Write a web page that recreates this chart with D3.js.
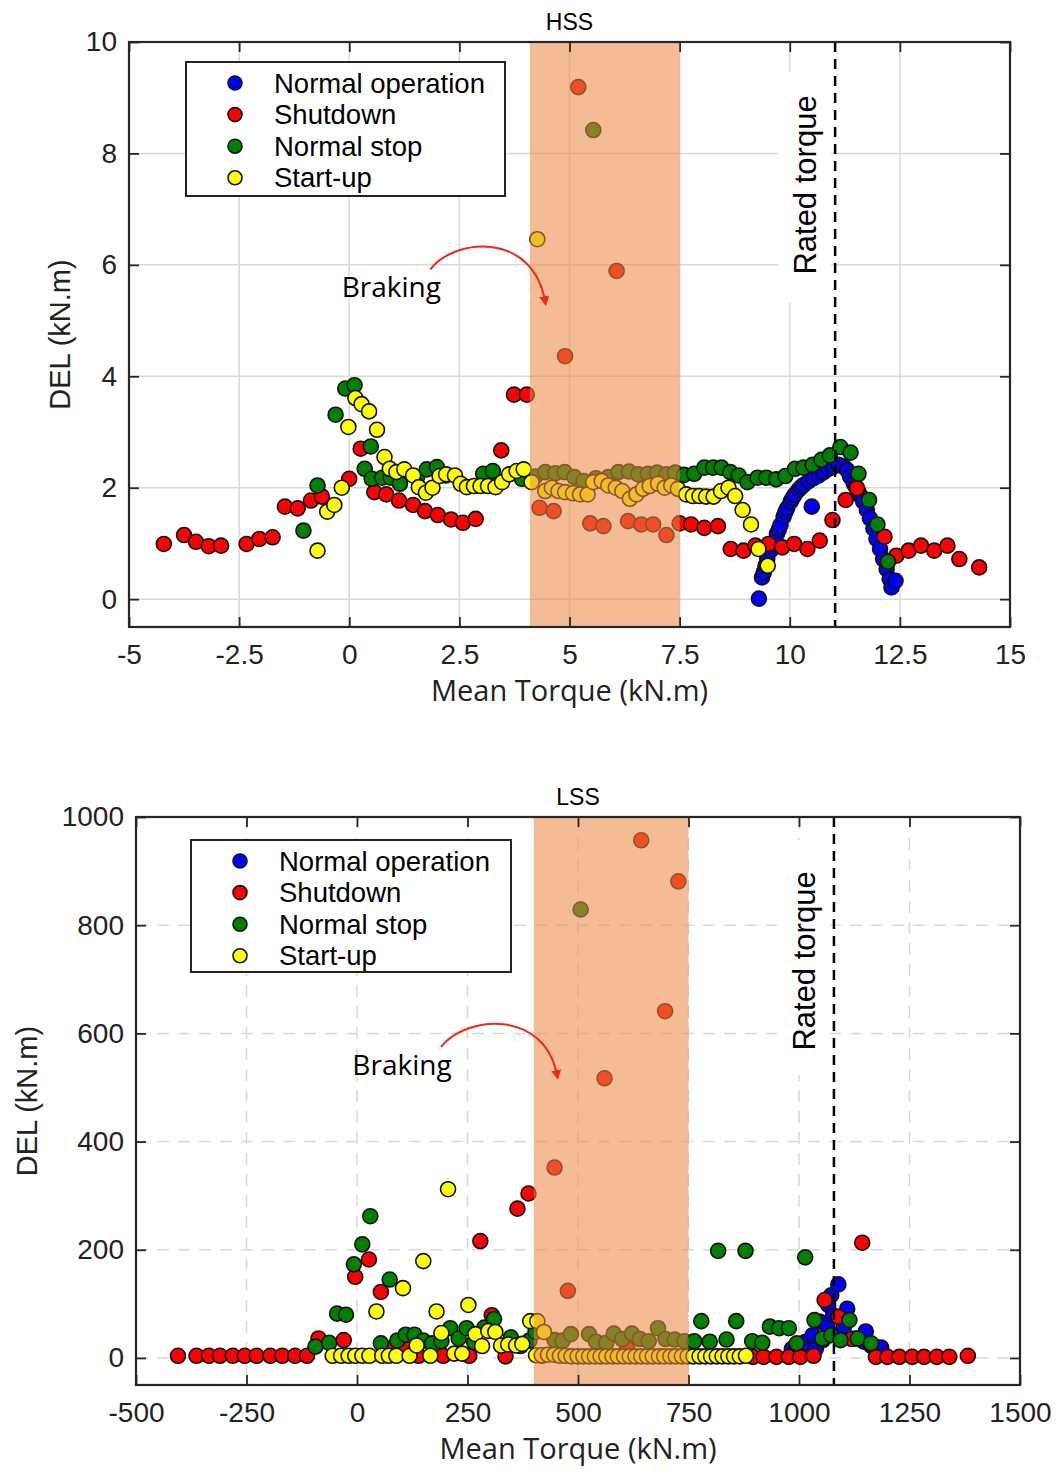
<!DOCTYPE html>
<html>
<head>
<meta charset="utf-8">
<script src="https://cdn.jsdelivr.net/npm/d3@7"></script>
<style>
  body { margin: 0; background: #fff; }
  svg { display: block; }
</style>
</head>
<body>
<svg width="1061" height="1473"></svg>
<script>
// ---- data: [mean torque, DEL] ----
var seriesNames = ["Normal operation", "Shutdown", "Normal stop", "Start-up"];

// HSS panel (kN.m)
var hssNormalOp = [[9.30,0.01],[9.37,0.39],[9.41,0.48],[9.45,0.60],[9.49,0.72],[9.56,0.87],[9.60,0.95],[9.64,1.02],[9.71,1.17],[9.75,1.25],[9.79,1.33],[9.86,1.48],[9.90,1.56],[9.94,1.63],[10.02,1.75],[10.06,1.81],[10.11,1.87],[10.20,1.96],[10.26,2.01],[10.32,2.05],[10.43,2.12],[10.54,2.17],[10.66,2.22],[10.77,2.28],[10.88,2.34],[10.99,2.38],[11.11,2.41],[11.22,2.38],[11.30,2.32],[11.37,2.20],[11.45,2.08],[11.50,2.01],[11.56,1.93],[11.62,1.84],[11.67,1.75],[11.75,1.60],[11.82,1.45],[11.90,1.27],[11.97,1.08],[12.05,0.90],[12.12,0.72],[12.20,0.54],[12.27,0.36],[12.31,0.21],[12.40,0.33],[10.50,1.66]];
var hssShutdown = [[-4.21,0.99],[-3.75,1.15],[-3.48,1.03],[-3.19,0.95],[-2.91,0.96],[-2.33,0.99],[-2.04,1.08],[-1.74,1.11],[-1.46,1.66],[-1.17,1.63],[-0.87,1.77],[-0.62,1.84],[0.00,2.16],[0.26,2.70],[0.57,1.92],[0.84,1.88],[1.13,1.77],[1.45,1.69],[1.72,1.58],[2.01,1.51],[2.31,1.43],[2.58,1.37],[2.87,1.44],[3.45,2.67],[3.74,3.67],[4.03,3.67],[4.32,1.64],[4.64,1.58],[4.90,4.36],[5.20,9.19],[6.07,5.89],[5.47,1.36],[5.77,1.31],[6.33,1.40],[6.63,1.34],[6.90,1.34],[7.20,1.15],[7.50,1.36],[7.76,1.34],[8.06,1.28],[8.37,1.31],[8.66,0.90],[8.95,0.87],[9.22,0.96],[9.52,0.99],[9.83,0.93],[10.10,0.99],[10.40,0.90],[10.68,1.05],[10.97,1.42],[11.27,1.78],[11.53,1.99],[12.15,1.12],[12.42,0.78],[12.70,0.87],[12.98,0.96],[13.28,0.87],[13.58,0.96],[13.85,0.72],[14.30,0.57]];
var hssNormalStop = [[-1.04,1.23],[-0.72,2.04],[-0.31,3.31],[-0.09,3.78],[0.12,3.84],[0.35,2.34],[0.49,2.74],[0.51,2.16],[0.75,2.18],[0.94,2.18],[1.15,2.07],[1.54,2.19],[1.76,2.33],[1.99,2.37],[2.20,2.22],[3.04,2.25],[3.26,2.30],[3.92,2.16],[4.22,2.20],[4.45,2.28],[4.68,2.26],[4.89,2.28],[5.11,2.19],[5.32,2.12],[5.54,8.42],[5.60,2.17],[5.88,2.19],[6.11,2.28],[6.35,2.29],[6.56,2.24],[6.78,2.25],[6.99,2.27],[7.20,2.24],[7.40,2.27],[7.60,2.23],[7.83,2.25],[8.06,2.36],[8.26,2.36],[8.45,2.36],[8.65,2.28],[8.84,2.22],[9.04,2.10],[9.27,2.18],[9.47,2.18],[9.69,2.15],[9.90,2.21],[10.12,2.34],[10.31,2.36],[10.52,2.41],[10.72,2.50],[10.91,2.58],[11.15,2.73],[11.38,2.63],[11.56,2.25],[11.80,1.78],[11.99,1.34],[12.23,0.67]];
var hssStartup = [[-0.72,0.87],[-0.50,1.57],[-0.34,1.69],[-0.17,2.00],[-0.02,3.09],[0.14,3.61],[0.28,3.50],[0.45,3.37],[0.63,3.04],[0.80,2.55],[0.92,2.34],[1.07,2.28],[1.25,2.33],[1.45,2.22],[1.58,2.01],[1.74,1.91],[1.89,2.00],[2.05,2.21],[2.20,2.24],[2.40,2.22],[2.53,2.07],[2.67,2.01],[2.83,2.03],[2.98,2.03],[3.15,2.03],[3.32,2.01],[3.47,2.10],[3.63,2.24],[3.80,2.30],[3.96,2.33],[4.14,2.10],[4.27,6.46],[4.45,1.94],[4.60,2.00],[4.75,1.94],[4.90,1.92],[5.08,1.90],[5.24,1.88],[5.41,1.88],[5.54,2.10],[5.73,2.12],[5.88,2.04],[6.05,2.00],[6.20,1.94],[6.37,1.80],[6.52,1.88],[6.67,1.98],[6.82,2.03],[7.01,2.07],[7.16,2.00],[7.31,2.04],[7.46,1.98],[7.65,1.88],[7.80,1.85],[7.95,1.85],[8.10,1.84],[8.27,1.84],[8.44,1.94],[8.61,2.00],[8.76,1.85],[8.93,1.60],[9.12,1.34],[9.29,0.90],[9.50,0.60]];

// LSS panel (kN.m)
var lssNormalOp = [[984,17],[992,14],[1006,20],[1015,30],[1023,14],[1031,42],[1038,17],[1047,67],[1054,33],[1064,59],[1066,98],[1073,116],[1077,79],[1089,136],[1097,48],[1101,54],[1109,91],[1128,36],[1147,30],[1151,49],[1163,23],[1174,20],[1186,19]];
var lssShutdown = [[-405,4],[-363,4],[-335,4],[-310,4],[-281,4],[-254,4],[-227,4],[-196,4],[-169,4],[-140,4],[-113,4],[-87,36],[-30,33],[-4,150],[27,182],[54,122],[78,18],[108,18],[139,4],[195,4],[254,4],[279,216],[305,79],[336,3],[363,276],[388,304],[418,4],[447,352],[477,124],[560,517],[611,18],[643,957],[697,641],[727,881],[896,2],[920,2],[949,2],[977,2],[1003,2],[1033,4],[1058,107],[1089,76],[1120,35],[1143,213],[1174,2],[1200,2],[1227,2],[1256,2],[1283,2],[1312,2],[1340,2],[1382,4]];
var lssNormalStop = [[-94,21],[-63,28],[-45,82],[-25,80],[-7,173],[12,210],[30,262],[54,27],[74,145],[91,32],[110,43],[130,43],[150,32],[170,27],[191,31],[211,55],[230,36],[248,55],[265,29],[288,56],[310,72],[348,38],[370,22],[390,32],[404,48],[447,33],[465,32],[484,44],[506,829],[525,44],[541,30],[564,28],[581,45],[600,35],[622,45],[640,35],[660,31],[681,55],[698,35],[719,34],[741,31],[763,31],[779,68],[798,30],[817,198],[836,34],[858,68],[879,198],[894,31],[917,28],[934,58],[955,55],[977,55],[995,27],[1014,186],[1035,70],[1053,36],[1073,42],[1094,33],[1114,70],[1133,36],[1163,27]];
var lssStartup = [[-55,4],[-36,4],[-19,4],[-4,4],[12,4],[28,4],[44,86],[57,4],[72,4],[89,4],[104,129],[119,4],[135,23],[150,179],[166,4],[180,86],[191,46],[206,312],[220,8],[238,8],[252,98],[268,44],[283,22],[297,50],[313,48],[326,23],[342,25],[360,23],[374,26],[392,68],[408,68],[423,48],[405,5],[418,5],[432,6],[446,6],[459,4],[472,4],[485,3],[499,3],[512,3],[525,3],[538,3],[551,3],[564,3],[578,3],[590,3],[604,3],[617,3],[630,3],[643,3],[656,3],[669,3],[683,3],[695,3],[709,3],[721,3],[735,3],[748,3],[761,3],[775,3],[788,3],[801,3],[814,3],[827,3],[840,3],[853,3],[866,3],[880,4]];

var hssXTicks = [-5, -2.5, 0, 2.5, 5, 7.5, 10, 12.5, 15];
var hssYTicks = [0, 2, 4, 6, 8, 10];
var lssXTicks = [-500, -250, 0, 250, 500, 750, 1000, 1250, 1500];
var lssYTicks = [0, 200, 400, 600, 800, 1000];

var hssBand = [4.1, 7.5], lssBand = [400, 750];
var hssRated = 11.03, lssRated = 1079;

// ---- drawing ----
var svg = d3.select("svg");
var colors = ["#0000ff", "#ff0000", "#008000", "#ffff00"];
var tickFont = "'Liberation Sans', Arial, sans-serif";
var textFont = "'Open Sans', 'Liberation Sans', sans-serif";

svg.append("defs").append("marker")
  .attr("id", "arrow")
  .attr("viewBox", "0 0 10 10")
  .attr("refX", 6).attr("refY", 5)
  .attr("markerWidth", 5).attr("markerHeight", 5)
  .attr("orient", "auto")
  .append("path").attr("d", "M0,0L10,5L0,10z").attr("fill", "#ee2a14");

function panel(cfg) {
  var x = d3.scaleLinear().domain(cfg.xDomain).range([cfg.left, cfg.right]);
  var y = d3.scaleLinear().domain(cfg.yDomain).range([cfg.bottom, cfg.top]);
  var g = svg.append("g");
  var fmt = function(d) { return String(d); };

  // grid
  g.append("g").selectAll("line")
    .data(cfg.xTicks.slice(1, -1))
    .enter().append("line")
    .attr("x1", function(d) { return x(d); })
    .attr("x2", function(d) { return x(d); })
    .attr("y1", cfg.top).attr("y2", cfg.bottom)
    .attr("stroke", "#d9d9d9").attr("stroke-width", 1.5)
    .attr("stroke-dasharray", cfg.gridDash);
  g.append("g").selectAll("line")
    .data(cfg.yTicks.filter(function(d) { return d < cfg.yDomain[1]; }))
    .enter().append("line")
    .attr("y1", function(d) { return y(d); })
    .attr("y2", function(d) { return y(d); })
    .attr("x1", cfg.left).attr("x2", cfg.right)
    .attr("stroke", "#d9d9d9").attr("stroke-width", 1.5)
    .attr("stroke-dasharray", cfg.gridDash);

  // white patch behind the rated torque label
  var rx = x(cfg.rated);
  g.append("rect")
    .attr("x", rx - 57).attr("width", 53)
    .attr("y", cfg.top + cfg.ratedBox[0]).attr("height", cfg.ratedBox[1] - cfg.ratedBox[0])
    .attr("fill", "#fff");

  // points
  cfg.series.forEach(function(s, i) {
    g.append("g").selectAll("circle")
      .data(s)
      .enter().append("circle")
      .attr("cx", function(d) { return x(d[0]); })
      .attr("cy", function(d) { return y(d[1]); })
      .attr("r", 7.5)
      .attr("fill", colors[i])
      .attr("stroke", "#111")
      .attr("stroke-width", 1.6);
  });

  // braking band
  g.append("rect")
    .attr("x", x(cfg.band[0]))
    .attr("width", x(cfg.band[1]) - x(cfg.band[0]))
    .attr("y", cfg.top).attr("height", cfg.bottom - cfg.top)
    .attr("fill", "rgb(235,135,66)").attr("fill-opacity", 0.56);

  // rated torque line + label
  g.append("line")
    .attr("x1", rx).attr("x2", rx)
    .attr("y1", cfg.top).attr("y2", cfg.bottom)
    .attr("stroke", "#000").attr("stroke-width", 2.5)
    .attr("stroke-dasharray", "10,7");
  g.append("text")
    .attr("transform", "translate(" + (rx - 19) + "," + (cfg.top + cfg.ratedMid) + ") rotate(-90)")
    .attr("text-anchor", "middle")
    .attr("font-family", tickFont).attr("font-size", 31)
    .text("Rated torque");

  // axes (ticks inward on all four sides)
  g.append("g").attr("transform", "translate(0," + cfg.bottom + ")")
    .call(d3.axisBottom(x).tickValues(cfg.xTicks).tickSize(-10).tickPadding(17).tickFormat(fmt));
  g.append("g").attr("transform", "translate(0," + cfg.top + ")")
    .call(d3.axisTop(x).tickValues(cfg.xTicks).tickSize(-10).tickFormat(""));
  g.append("g").attr("transform", "translate(" + cfg.left + ",0)")
    .call(d3.axisLeft(y).tickValues(cfg.yTicks).tickSize(-10).tickPadding(12).tickFormat(fmt));
  g.append("g").attr("transform", "translate(" + cfg.right + ",0)")
    .call(d3.axisRight(y).tickValues(cfg.yTicks).tickSize(-10).tickFormat(""));
  g.selectAll(".domain").remove();
  g.selectAll(".tick line").attr("stroke", "#262626").attr("stroke-width", 1.8);
  g.selectAll(".tick text").attr("font-family", tickFont).attr("font-size", 28).attr("fill", "#222");

  g.append("rect")
    .attr("x", cfg.left).attr("y", cfg.top)
    .attr("width", cfg.right - cfg.left).attr("height", cfg.bottom - cfg.top)
    .attr("fill", "none").attr("stroke", "#262626").attr("stroke-width", 2.2);

  // titles
  var cx = (cfg.left + cfg.right) / 2;
  g.append("text").attr("x", cx).attr("y", cfg.top - 12)
    .attr("text-anchor", "middle").attr("font-family", tickFont).attr("font-size", 23)
    .text(cfg.title);
  g.append("text").attr("x", cx).attr("y", cfg.bottom + 74)
    .attr("text-anchor", "middle").attr("font-family", textFont).attr("font-size", 29).attr("fill", "#222")
    .text("Mean Torque (kN.m)");
  g.append("text")
    .attr("transform", "translate(" + cfg.yLabelX + "," + ((cfg.top + cfg.bottom) / 2) + ") rotate(-90)")
    .attr("text-anchor", "middle").attr("font-family", tickFont).attr("font-size", 29).attr("fill", "#222")
    .text("DEL (kN.m)");

  // braking annotation
  var s = [x(cfg.brakeFrom[0]), y(cfg.brakeFrom[1])];
  var e = [x(cfg.brakeTo[0]), y(cfg.brakeTo[1])];
  g.append("path")
    .attr("d", "M" + s[0] + "," + s[1] +
      "C" + (s[0] + 25) + "," + (s[1] - 32) + " " + (e[0] - 12) + "," + (s[1] - 38) + " " + e[0] + "," + e[1])
    .attr("fill", "none").attr("stroke", "#ee2a14").attr("stroke-width", 2)
    .attr("marker-end", "url(#arrow)");
  g.append("text").attr("x", s[0] - 39).attr("y", s[1] + 28)
    .attr("text-anchor", "middle").attr("font-family", textFont).attr("font-size", 28)
    .text("Braking");

  // legend
  var lg = g.append("g").attr("transform", "translate(" + (cfg.left + cfg.legend[0]) + "," + (cfg.top + cfg.legend[1]) + ")");
  lg.append("rect").attr("width", cfg.legend[2]).attr("height", cfg.legend[3])
    .attr("fill", "#fff").attr("stroke", "#222").attr("stroke-width", 2);
  var row = lg.selectAll("g.row").data(seriesNames).enter().append("g")
    .attr("transform", function(d, i) { return "translate(0," + (21 + i * 31.6) + ")"; });
  row.append("circle").attr("cx", 49).attr("r", 7)
    .attr("fill", function(d, i) { return colors[i]; })
    .attr("stroke", "#111").attr("stroke-width", 1.6);
  row.append("text").attr("x", 88).attr("dy", "0.35em")
    .attr("font-family", tickFont).attr("font-size", 27.5)
    .text(function(d) { return d; });
}

panel({
  left: 129, right: 1010, top: 42, bottom: 627,
  xDomain: [-5, 15], yDomain: [-0.5, 10],
  xTicks: hssXTicks, yTicks: hssYTicks,
  series: [hssNormalOp, hssShutdown, hssNormalStop, hssStartup],
  band: hssBand, rated: hssRated, ratedBox: [30, 261], ratedMid: 143,
  gridDash: null, title: "HSS", yLabelX: 70,
  brakeFrom: [1.84, 5.92], brakeTo: [4.45, 5.33],
  legend: [57, 20, 319, 134]
});

panel({
  left: 136, right: 1020, top: 817, bottom: 1385,
  xDomain: [-500, 1500], yDomain: [-50, 1000],
  xTicks: lssXTicks, yTicks: lssYTicks,
  series: [lssNormalOp, lssShutdown, lssNormalStop, lssStartup],
  band: lssBand, rated: lssRated, ratedBox: [23, 258], ratedMid: 144,
  gridDash: "12,9", title: "LSS", yLabelX: 37,
  brakeFrom: [190, 575], brakeTo: [453, 521],
  legend: [55, 23, 320, 132]
});
</script>
</body>
</html>
